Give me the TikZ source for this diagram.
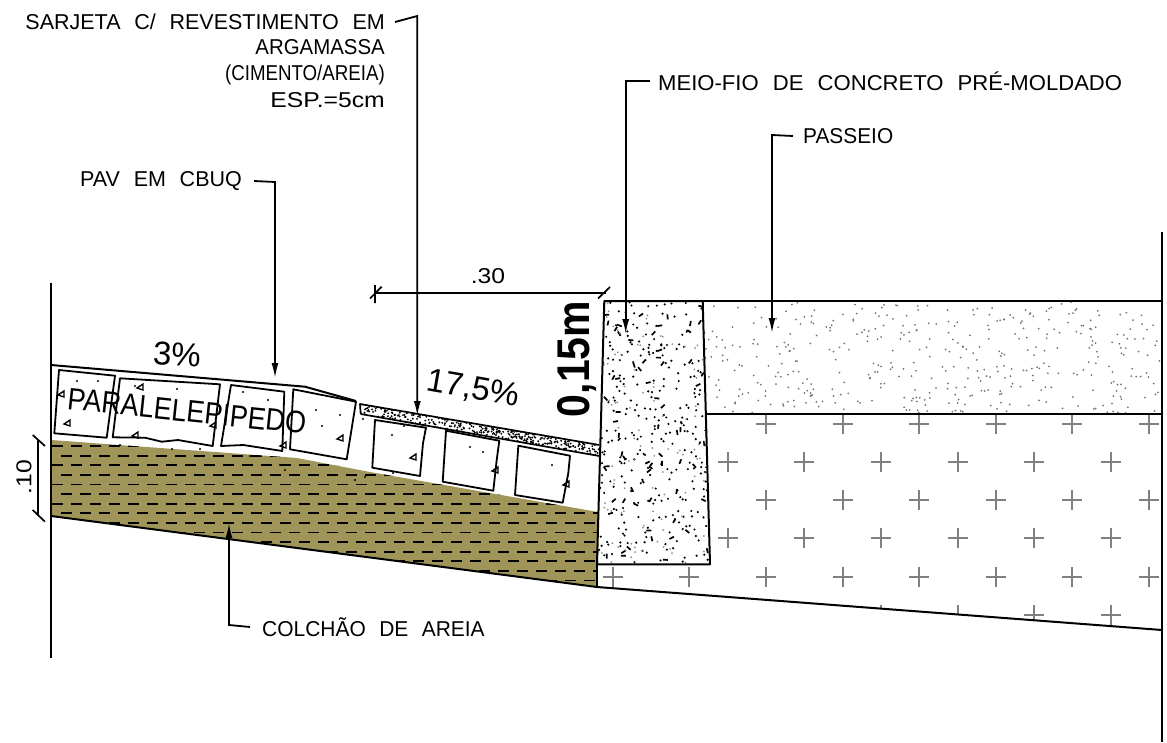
\documentclass[tikz,border=0pt]{standalone}
\usepackage{fontspec}
\setmainfont[WordSpace=2.3]{Liberation Sans}
\usetikzlibrary{arrows.meta}
\definecolor{sand}{HTML}{A09558}
\definecolor{hatchgray}{HTML}{808080}
\tikzset{
  x=1pt,y=-1pt,
  outline/.style={draw=black,line width=2pt,line join=round},
  thinline/.style={draw=black,line width=1.7pt,line join=round},
  stone/.style={draw=black,line width=1.8pt,line join=round},
  leader/.style={draw=black,line width=1.8pt,-{Latex[length=15pt,width=7pt]}},
  dimline/.style={draw=black,line width=1.7pt},
  crossmark/.style={draw=hatchgray,line width=1.7pt},
  sanddash/.style={draw=black,line width=1.8pt,dash pattern=on 11pt off 8pt},
  label/.style={inner sep=0pt,font=\fontsize{21.5}{22}\selectfont},
  slope/.style={inner sep=0pt,font=\fontsize{33}{34}\selectfont},
}
\begin{document}
\begin{tikzpicture}
\useasboundingbox (0,0) rectangle (1167,742);
\pgfmathsetseed{4217}
% ---- sand layer
\fill[sand] (51,440) -- (297,458) -- (370,472) -- (598,512) -- (597,587) -- (51,516) -- cycle;
\begin{scope}
  \clip (51,440) -- (297,458) -- (370,472) -- (598,512) -- (597,587) -- (51,516) -- cycle;
  \foreach \i in {0,...,14}{
    \pgfmathsetmacro\ry{446+9.6*\i}
    \pgfmathsetmacro\rx{52+mod(\i,2)*9}
    \draw[sanddash] (\rx,\ry) -- (600,\ry);
  }
\end{scope}
% ---- crosses (subgrade)
\begin{scope}
  \clip (597,564.5) -- (710,564.5) -- (706,413.5) -- (1161,413.5) -- (1161,629.5) -- (597,587) -- cycle;
  \foreach \yy in {424,500,576.7}{
    \foreach \xx in {612.7,689,766.3,842.7,919.3,995.7,1072.3,1149}{
      \draw[crossmark] (\xx-10,\yy) -- (\xx+10,\yy) (\xx,\yy-10) -- (\xx,\yy+10);
    }
  }
  \foreach \yy in {462,538.3,615}{
    \foreach \xx in {727.7,804.3,881,957.7,1034,1110.7}{
      \draw[crossmark] (\xx-10,\yy) -- (\xx+10,\yy) (\xx,\yy-10) -- (\xx,\yy+10);
    }
  }
\end{scope}
% ---- passeio stipple
\begin{scope}
  \clip (703,301) rectangle (1161,414);
  \foreach \i in {1,...,420}{
    \pgfmathsetmacro\px{704+rnd*456}
    \pgfmathsetmacro\py{302+rnd*111}
    \fill[black!55] (\px,\py) circle[radius=1pt];
  }
\end{scope}
% ---- concrete curb stipple
\begin{scope}
  \clip (604.3,301) -- (702.7,301) -- (710,564.3) -- (597,564.3) -- cycle;
  \foreach \i in {1,...,300}{
    \pgfmathsetmacro\px{598+rnd*111}
    \pgfmathsetmacro\py{302+rnd*261}
    \fill[black] (\px,\py) circle[radius=1.2pt];
  }
  \foreach \i in {1,...,70}{
    \pgfmathsetmacro\px{598+rnd*111}
    \pgfmathsetmacro\py{302+rnd*261}
    \pgfmathsetmacro\pa{rnd*180}
    \draw[black,line width=1.7pt] (\px,\py) -- ++(\pa:5);
  }
  \foreach \i in {1,...,100}{
    \pgfmathsetmacro\px{598+rnd*111}
    \pgfmathsetmacro\py{302+rnd*261}
    \fill[black!45] (\px,\py) circle[radius=1pt];
  }
\end{scope}
% ---- sarjeta stipple
\begin{scope}
  \clip (360,404) -- (599.3,445) -- (599.3,456) -- (360.7,414) -- cycle;
  \foreach \i in {1,...,300}{
    \pgfmathsetmacro\pt{rnd}
    \pgfmathsetmacro\pn{rnd*10}
    \fill[black] (360+239*\pt,404+41.5*\pt+\pn) circle[radius=1.05pt];
  }
\end{scope}
% ---- outlines
\draw[outline] (51,283) -- (51,658);
\draw[outline] (1162,232) -- (1162,742);
\draw[outline] (51,365) -- (305,386.7) -- (356,401);
\draw[outline] (51,516) -- (597,587) -- (1162,630);
\draw[outline] (604.3,301) -- (702.7,301) -- (710,564.3) -- (597,564.3) -- cycle;
\draw[outline] (597,564.3) -- (597,587);
\draw[outline] (702.7,301) -- (1162,301);
\draw[outline] (706,413.5) -- (1162,413.5);
\draw[thinline] (360.7,414) -- (360,404) -- (599.3,445) (360.7,414) -- (599.3,456);
% ---- paving stones
\draw[stone] (59,370) -- (115,375.7) -- (106.7,437.7) -- (54.3,433.3) -- cycle;
\draw[stone] (120,378.3) -- (220,384.3) -- (212.7,446) -- (178,440) -- (161.7,441.7) -- (145,437.7) -- (112.7,437.3) -- cycle;
\draw[stone] (231,385) -- (284.3,391.7) -- (282.3,451) -- (243.3,445) -- (221,446) -- cycle;
\draw[stone] (293.3,389.3) -- (356,401.7) -- (346.7,459.3) -- (290,449.3) -- cycle;
\draw[stone] (375,420) -- (426,427.7) -- (423,443) -- (420,476) -- (372.3,467.7) -- cycle;
\draw[stone] (446,430.7) -- (499.3,440.7) -- (496.7,460) -- (493.3,490.7) -- (442.7,481.7) -- cycle;
\draw[stone] (518.3,445.7) -- (570,455.7) -- (568.3,473) -- (562.7,502.7) -- (515,495) -- cycle;
% ---- small aggregate marks
\foreach \mx/\my in {61/394, 340/438, 413/457, 495/470, 566/484, 283/445, 213/425, 135/435, 140/387, 67/423}{
  \draw[black,line width=1.4pt] (\mx-3,\my+1) -- (\mx+3,\my-3) -- (\mx+3,\my+3) -- cycle;
}
\foreach \mx/\my in {98/381, 77/381, 177/389, 135/386, 243/392, 268/400, 316/410, 340/415, 322/426, 363/419, 392/435, 404/426, 425/432, 483/452, 470/447, 552/465, 120/445, 172/449, 200/449, 250/456, 280/465, 285/470, 365/477, 330/475, 355/480, 393/473}{
  \fill[black] (\mx,\my) circle[radius=1.1pt];
}
% ---- dimensions
\coordinate (dimLa) at (375,293);
\coordinate (dimLb) at (606,293);
\draw[dimline] (dimLa) -- (dimLb);
\draw[dimline] (370,298.5) -- (381.7,286.7) (375,285) -- (375,303);
\draw[dimline] (598,298.5) -- (610,287);
\coordinate (dimVa) at (38.3,440);
\coordinate (dimVb) at (38.3,516);
\draw[dimline] (dimVa) -- (dimVb);
\draw[dimline] (32.7,435) -- (45,446) (32.7,510) -- (45,521.7);
\node[label,name=dimH] at (488,276) {\scalebox{1.15}[1]{.30}};
\node[label,name=dimV,rotate=90] at (24,477) {\scalebox{1.15}[1]{.10}};
% ---- texts
\node[label,anchor=east,name=sarjA] at (385,22) {SARJETA C/ REVESTIMENTO EM};
\node[label,anchor=east,name=sarjB] at (385,47) {\scalebox{.95}[1]{ARGAMASSA}};
\node[label,anchor=east,name=sarjC] at (385,75) {\scalebox{.87}[1]{(CIMENTO/AREIA)}};
\node[label,anchor=east,name=sarjD] at (385,100) {\scalebox{1.15}[1]{ESP.=5cm}};
\node[label,anchor=west,name=pav] at (80,181) {PAV EM CBUQ};
\node[label,anchor=west,name=meio] at (658,81) {\scalebox{1.027}[1]{MEIO-FIO DE CONCRETO PRÉ-MOLDADO}};
\node[label,anchor=west,name=pass] at (803,136) {\scalebox{.97}[1]{PASSEIO}};
\node[label,anchor=west,name=colch] at (262,627) {\scalebox{.975}[1]{COLCHÃO DE AREIA}};
\node[slope,name=s1,rotate=-3] at (177,354) {3\%};
\node[slope,name=s2,rotate=-10] at (473,389) {17,5\%};
\node[inner sep=0pt,name=para,rotate=-6,font=\fontsize{27}{28}\selectfont] at (187,411) {\scalebox{1}[1.15]{PARALELEPIPEDO}};
\node[inner sep=0pt,name=zero,rotate=90,font=\bfseries\fontsize{41}{43}\selectfont] at (577,359) {\scalebox{1}[1.12]{0,15m}};
% ---- leaders
\coordinate (tipS) at (417.3,416);
\coordinate (tipP) at (275,378);
\coordinate (tipM) at (625.7,334);
\coordinate (tipA) at (772,333);
\coordinate (tipC) at (229,523);
\draw[leader] ([xshift=10pt]sarjA.east) -- (417.3,16) -- (tipS);
\draw[leader] ([xshift=12pt]pav.east) -- (275,182) -- (tipP);
\draw[leader] ([xshift=-8pt]meio.west) -- (625.7,81) -- (tipM);
\draw[leader] ([xshift=-10pt]pass.west) -- (772,135) -- (tipA);
\draw[leader] ([xshift=-12pt]colch.west) -- (229,625) -- (tipC);
\end{tikzpicture}
\end{document}
